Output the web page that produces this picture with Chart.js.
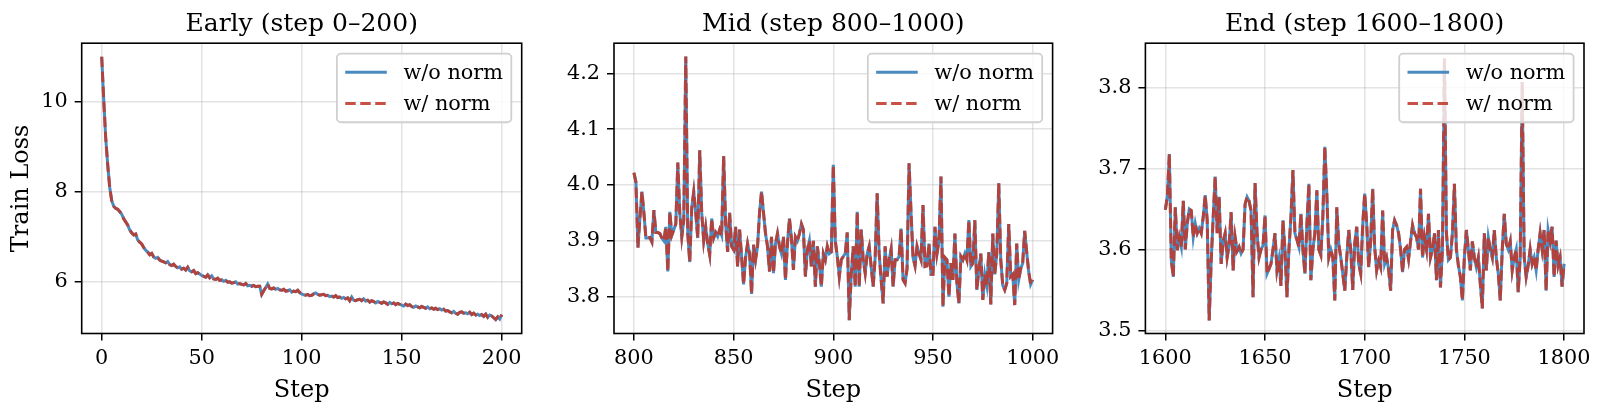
<!DOCTYPE html>
<html><head><meta charset="utf-8">
<script src="https://cdn.jsdelivr.net/npm/chart.js@4.4.1/dist/chart.umd.min.js"></script>
<style>
html,body{margin:0;padding:0;background:#fff;}
#wrap{position:relative;width:1600px;height:410px;overflow:hidden;background:#fff;}
canvas{position:absolute;top:0;}
</style></head><body>
<div id="wrap">
<canvas id="c1" width="540" height="410" style="left:0px"></canvas>
<canvas id="c2" width="530" height="410" style="left:540px"></canvas>
<canvas id="c3" width="530" height="410" style="left:1070px"></canvas>
</div>
<script>
// ---------- data ----------
const seriesLabels = ['w/o norm', 'w/ norm'];
const panelTitles = ['Early (step 0\u2013200)', 'Mid (step 800\u20131000)', 'End (step 1600\u20131800)'];
const earlyStart = 0, midStart = 800, endStart = 1600;

const earlyLoss = [
11.00,10.05,9.20,8.60,8.10,7.80,7.68,7.63,7.61,7.56,
7.50,7.40,7.33,7.26,7.15,7.09,7.04,7.06,6.93,6.88,
6.84,6.76,6.70,6.66,6.60,6.63,6.55,6.52,6.54,6.48,
6.46,6.44,6.42,6.45,6.38,6.36,6.39,6.34,6.31,6.33,
6.28,6.30,6.26,6.32,6.24,6.22,6.25,6.18,6.20,6.17,
6.14,6.12,6.10,6.15,6.09,6.13,6.06,6.05,6.08,6.03,
6.04,6.01,6.03,5.99,6.00,5.97,5.98,6.00,5.95,5.96,
5.94,5.93,5.96,5.91,5.92,5.90,5.92,5.89,5.90,5.90,
5.72,5.80,5.87,5.95,5.85,5.84,5.86,5.83,5.85,5.82,
5.81,5.83,5.79,5.80,5.82,5.77,5.79,5.78,5.81,5.76,
5.73,5.71,5.70,5.72,5.69,5.70,5.73,5.75,5.72,5.70,
5.71,5.72,5.69,5.70,5.67,5.68,5.66,5.69,5.65,5.66,
5.63,5.65,5.62,5.64,5.58,5.66,5.59,5.58,5.60,5.61,
5.58,5.62,5.57,5.59,5.55,5.58,5.56,5.53,5.56,5.54,
5.52,5.55,5.53,5.50,5.54,5.51,5.53,5.49,5.52,5.50,
5.48,5.46,5.50,5.47,5.49,5.45,5.43,5.46,5.44,5.42,
5.45,5.43,5.41,5.44,5.40,5.42,5.39,5.41,5.38,5.40,
5.37,5.39,5.35,5.36,5.33,5.31,5.34,5.30,5.28,5.32,
5.33,5.30,5.31,5.29,5.32,5.27,5.30,5.26,5.28,5.25,
5.27,5.23,5.28,5.21,5.26,5.24,5.20,5.16,5.22,5.17,
5.27];

const midLoss = [
4.022,4.005,3.888,3.940,3.988,3.950,3.905,3.905,3.906,3.898,
3.955,3.915,3.915,3.913,3.905,3.900,3.925,3.845,3.952,3.910,
3.920,3.930,4.040,3.950,3.907,3.937,4.230,3.913,3.862,3.960,
3.988,3.950,3.905,4.062,3.950,3.900,3.925,3.895,3.875,3.940,
3.905,3.915,3.908,3.920,3.910,4.052,3.930,3.880,3.950,3.890,
3.884,3.925,3.854,3.920,3.872,3.822,3.870,3.895,3.877,3.805,
3.893,3.866,3.890,3.950,3.988,3.950,3.913,3.890,3.845,3.907,
3.842,3.895,3.913,3.890,3.877,3.907,3.830,3.895,3.940,3.905,
3.848,3.907,3.900,3.913,3.930,3.920,3.836,3.884,3.900,3.854,
3.900,3.818,3.890,3.860,3.818,3.877,3.866,3.890,3.877,3.880,
4.036,3.900,3.872,3.836,3.866,3.872,3.877,3.915,3.758,3.840,
3.890,3.818,3.952,3.818,3.920,3.866,3.842,3.877,3.890,3.854,
3.818,3.870,3.985,3.877,3.830,3.788,3.890,3.836,3.866,3.885,
3.818,3.866,3.866,3.872,3.922,3.830,3.824,3.850,4.039,3.950,
3.870,3.855,3.890,3.877,3.866,3.964,3.854,3.855,3.895,3.840,
3.840,3.925,3.877,3.900,4.015,3.782,3.870,3.866,3.800,3.860,
3.830,3.913,3.824,3.788,3.872,3.866,3.877,3.866,3.937,3.854,
3.860,3.937,3.812,3.848,3.877,3.794,3.840,3.820,3.880,3.786,
3.913,3.840,3.877,4.003,3.866,3.820,3.812,3.824,3.930,3.836,
3.840,3.785,3.895,3.830,3.850,3.860,3.918,3.880,3.845,3.822,
3.830];

const endLoss = [
3.649,3.665,3.718,3.586,3.566,3.652,3.599,3.615,3.603,3.660,
3.600,3.632,3.650,3.648,3.615,3.632,3.620,3.626,3.620,3.640,
3.667,3.636,3.512,3.586,3.640,3.690,3.620,3.665,3.582,3.610,
3.620,3.590,3.605,3.646,3.574,3.615,3.598,3.603,3.595,3.600,
3.656,3.665,3.660,3.648,3.541,3.682,3.620,3.590,3.600,3.605,
3.642,3.570,3.576,3.582,3.600,3.620,3.574,3.588,3.555,3.636,
3.600,3.541,3.600,3.640,3.698,3.620,3.612,3.603,3.644,3.600,
3.570,3.630,3.681,3.562,3.600,3.620,3.673,3.600,3.593,3.640,
3.727,3.669,3.590,3.600,3.590,3.537,3.652,3.607,3.590,3.570,
3.549,3.590,3.624,3.600,3.550,3.607,3.628,3.582,3.570,3.630,
3.669,3.632,3.578,3.610,3.675,3.603,3.574,3.586,3.578,3.648,
3.582,3.590,3.575,3.549,3.624,3.636,3.630,3.620,3.600,3.572,
3.600,3.603,3.588,3.610,3.630,3.620,3.615,3.600,3.675,3.590,
3.615,3.600,3.644,3.590,3.600,3.620,3.562,3.624,3.553,3.600,
3.836,3.620,3.587,3.590,3.620,3.681,3.600,3.580,3.566,3.537,
3.590,3.624,3.600,3.574,3.610,3.590,3.578,3.590,3.557,3.527,
3.620,3.574,3.615,3.600,3.590,3.624,3.590,3.570,3.537,3.600,
3.644,3.607,3.600,3.610,3.574,3.590,3.600,3.547,3.590,3.807,
3.590,3.566,3.580,3.600,3.582,3.590,3.574,3.600,3.620,3.600,
3.624,3.549,3.624,3.610,3.628,3.566,3.611,3.580,3.590,3.554,
3.582];

const xTicksEarly = [0, 50, 100, 150, 200];
const xTicksMid = [800, 850, 900, 950, 1000];
const xTicksEnd = [1600, 1650, 1700, 1750, 1800];
const yTicksEarly = [6, 8, 10];
const yTicksMid = [3.8, 3.9, 4.0, 4.1, 4.2];
const yTicksEnd = [3.5, 3.6, 3.7, 3.8];

// ---------- styling ----------
const FONT = '"DejaVu Serif", "Liberation Serif", serif';
const BLUE = 'rgba(63,133,189,0.95)';
const RED = 'rgba(192,57,43,0.88)';
const LW = 3;
const DASH = [10.5, 4.5];
Chart.defaults.font.family = FONT;
Chart.defaults.color = '#000';
Chart.defaults.devicePixelRatio = 1;

const decor = {
  id: 'decor',
  afterDatasetsDraw(chart) {
    const {ctx, chartArea: ca} = chart;
    ctx.save();
    ctx.strokeStyle = '#000';
    ctx.lineWidth = 1.6;
    ctx.strokeRect(ca.left, ca.top, ca.right - ca.left, ca.bottom - ca.top);
    ctx.restore();
  },
  afterDraw(chart, args, opts) {
    const {ctx, chartArea: ca} = chart;
    ctx.save();
    // title
    ctx.font = '25px ' + FONT;
    ctx.fillStyle = '#000';
    ctx.textAlign = 'center';
    ctx.textBaseline = 'alphabetic';
    ctx.fillText(opts.title, (ca.left + ca.right) / 2, ca.top - 12.5);
    // legend (upper right)
    const fs = 20.8, bp = 0.4 * fs, hl = 2 * fs, htp = 0.8 * fs, ls = 0.5 * fs, bap = 0.5 * fs;
    ctx.font = fs + 'px ' + FONT;
    const items = opts.legendOrder.map(i => chart.data.datasets[i]);
    const tw = Math.max(...items.map(d => ctx.measureText(d.label).width));
    const w = bp * 2 + hl + htp + tw;
    const h = bp * 2 + fs * 2 + ls;
    const x1 = ca.right - bap - w, y1 = ca.top + bap;
    ctx.beginPath();
    ctx.roundRect(x1, y1, w, h, 4);
    ctx.fillStyle = 'rgba(255,255,255,0.8)';
    ctx.fill();
    ctx.strokeStyle = '#d0d0d0';
    ctx.lineWidth = 1.8;
    ctx.stroke();
    items.forEach((d, i) => {
      const cy = y1 + bp + fs / 2 + i * (fs + ls);
      ctx.beginPath();
      ctx.setLineDash(d.borderDash || []);
      ctx.strokeStyle = d.borderColor;
      ctx.lineWidth = d.borderWidth;
      ctx.moveTo(x1 + bp, cy);
      ctx.lineTo(x1 + bp + hl, cy);
      ctx.stroke();
      ctx.setLineDash([]);
      ctx.fillStyle = '#000';
      ctx.textAlign = 'left';
      ctx.textBaseline = 'middle';
      ctx.fillText(d.label, x1 + bp + hl + htp, cy + 1);
    });
    ctx.restore();
  }
};

function makePanel(id, cfg) {
  const pts = cfg.values.map((v, i) => ({x: cfg.start + i, y: v}));
  return new Chart(document.getElementById(id), {
    type: 'line',
    data: {
      datasets: [
        {label: seriesLabels[0], data: pts, borderColor: BLUE, borderWidth: LW, pointRadius: 0, tension: 0, order: 2, fill: false},
        {label: seriesLabels[1], data: pts, borderColor: RED, borderWidth: LW, borderDash: DASH, pointRadius: 0, tension: 0, order: 1, fill: false}
      ]
    },
    options: {
      responsive: false,
      animation: false,
      events: [],
      layout: {padding: {top: 43.2, right: cfg.padRight, bottom: 0, left: 0}},
      plugins: {
        legend: {display: false},
        tooltip: {enabled: false},
        decor: {title: cfg.title, legendOrder: [0, 1]}
      },
      scales: {
        x: {
          type: 'linear',
          min: cfg.xMin, max: cfg.xMax,
          afterBuildTicks: s => { s.ticks = cfg.xTicks.map(v => ({value: v})); },
          afterFit: s => { s.height = 76.5; },
          grid: {color: 'rgba(176,176,176,0.35)', lineWidth: 1.5, drawTicks: true, tickLength: 7, tickColor: '#000', tickWidth: 1.5},
          border: {display: false},
          ticks: {font: {size: 20.8, family: FONT}, color: '#000', padding: 6, maxRotation: 0, autoSkip: false, callback: v => String(v)},
          title: {display: true, text: 'Step', font: {size: 24, family: FONT}, color: '#000', padding: {top: 0, bottom: 5}}
        },
        y: {
          type: 'linear',
          min: cfg.yMin, max: cfg.yMax,
          afterBuildTicks: s => { s.ticks = cfg.yTicks.map(v => ({value: v})); },
          afterFit: s => { s.width = cfg.yWidth; },
          grid: {color: 'rgba(176,176,176,0.35)', lineWidth: 1.5, drawTicks: true, tickLength: 7, tickColor: '#000', tickWidth: 1.5},
          border: {display: false},
          ticks: {font: {size: 20.8, family: FONT}, color: '#000', padding: 7, callback: v => cfg.fmt(v)},
          title: {display: cfg.yTitle !== '', text: cfg.yTitle, font: {size: 24, family: FONT}, color: '#000', padding: {top: 7, bottom: 0}}
        }
      }
    },
    plugins: [decor]
  });
}

makePanel('c1', {values: earlyLoss, start: earlyStart, title: panelTitles[0], xMin: -10, xMax: 210, yMin: 4.85, yMax: 11.30,
  xTicks: xTicksEarly, yTicks: yTicksEarly, fmt: v => String(Math.round(v)), yWidth: 81.7, padRight: 18.3, yTitle: 'Train Loss'});
makePanel('c2', {values: midLoss, start: midStart, title: panelTitles[1], xMin: 790, xMax: 1010, yMin: 3.734, yMax: 4.254,
  xTicks: xTicksMid, yTicks: yTicksMid, fmt: v => v.toFixed(1), yWidth: 74, padRight: 17.4, yTitle: ''});
makePanel('c3', {values: endLoss, start: endStart, title: panelTitles[2], xMin: 1590, xMax: 1810, yMin: 3.496, yMax: 3.855,
  xTicks: xTicksEnd, yTicks: yTicksEnd, fmt: v => v.toFixed(1), yWidth: 75.4, padRight: 16, yTitle: ''});
</script>
</body></html>
